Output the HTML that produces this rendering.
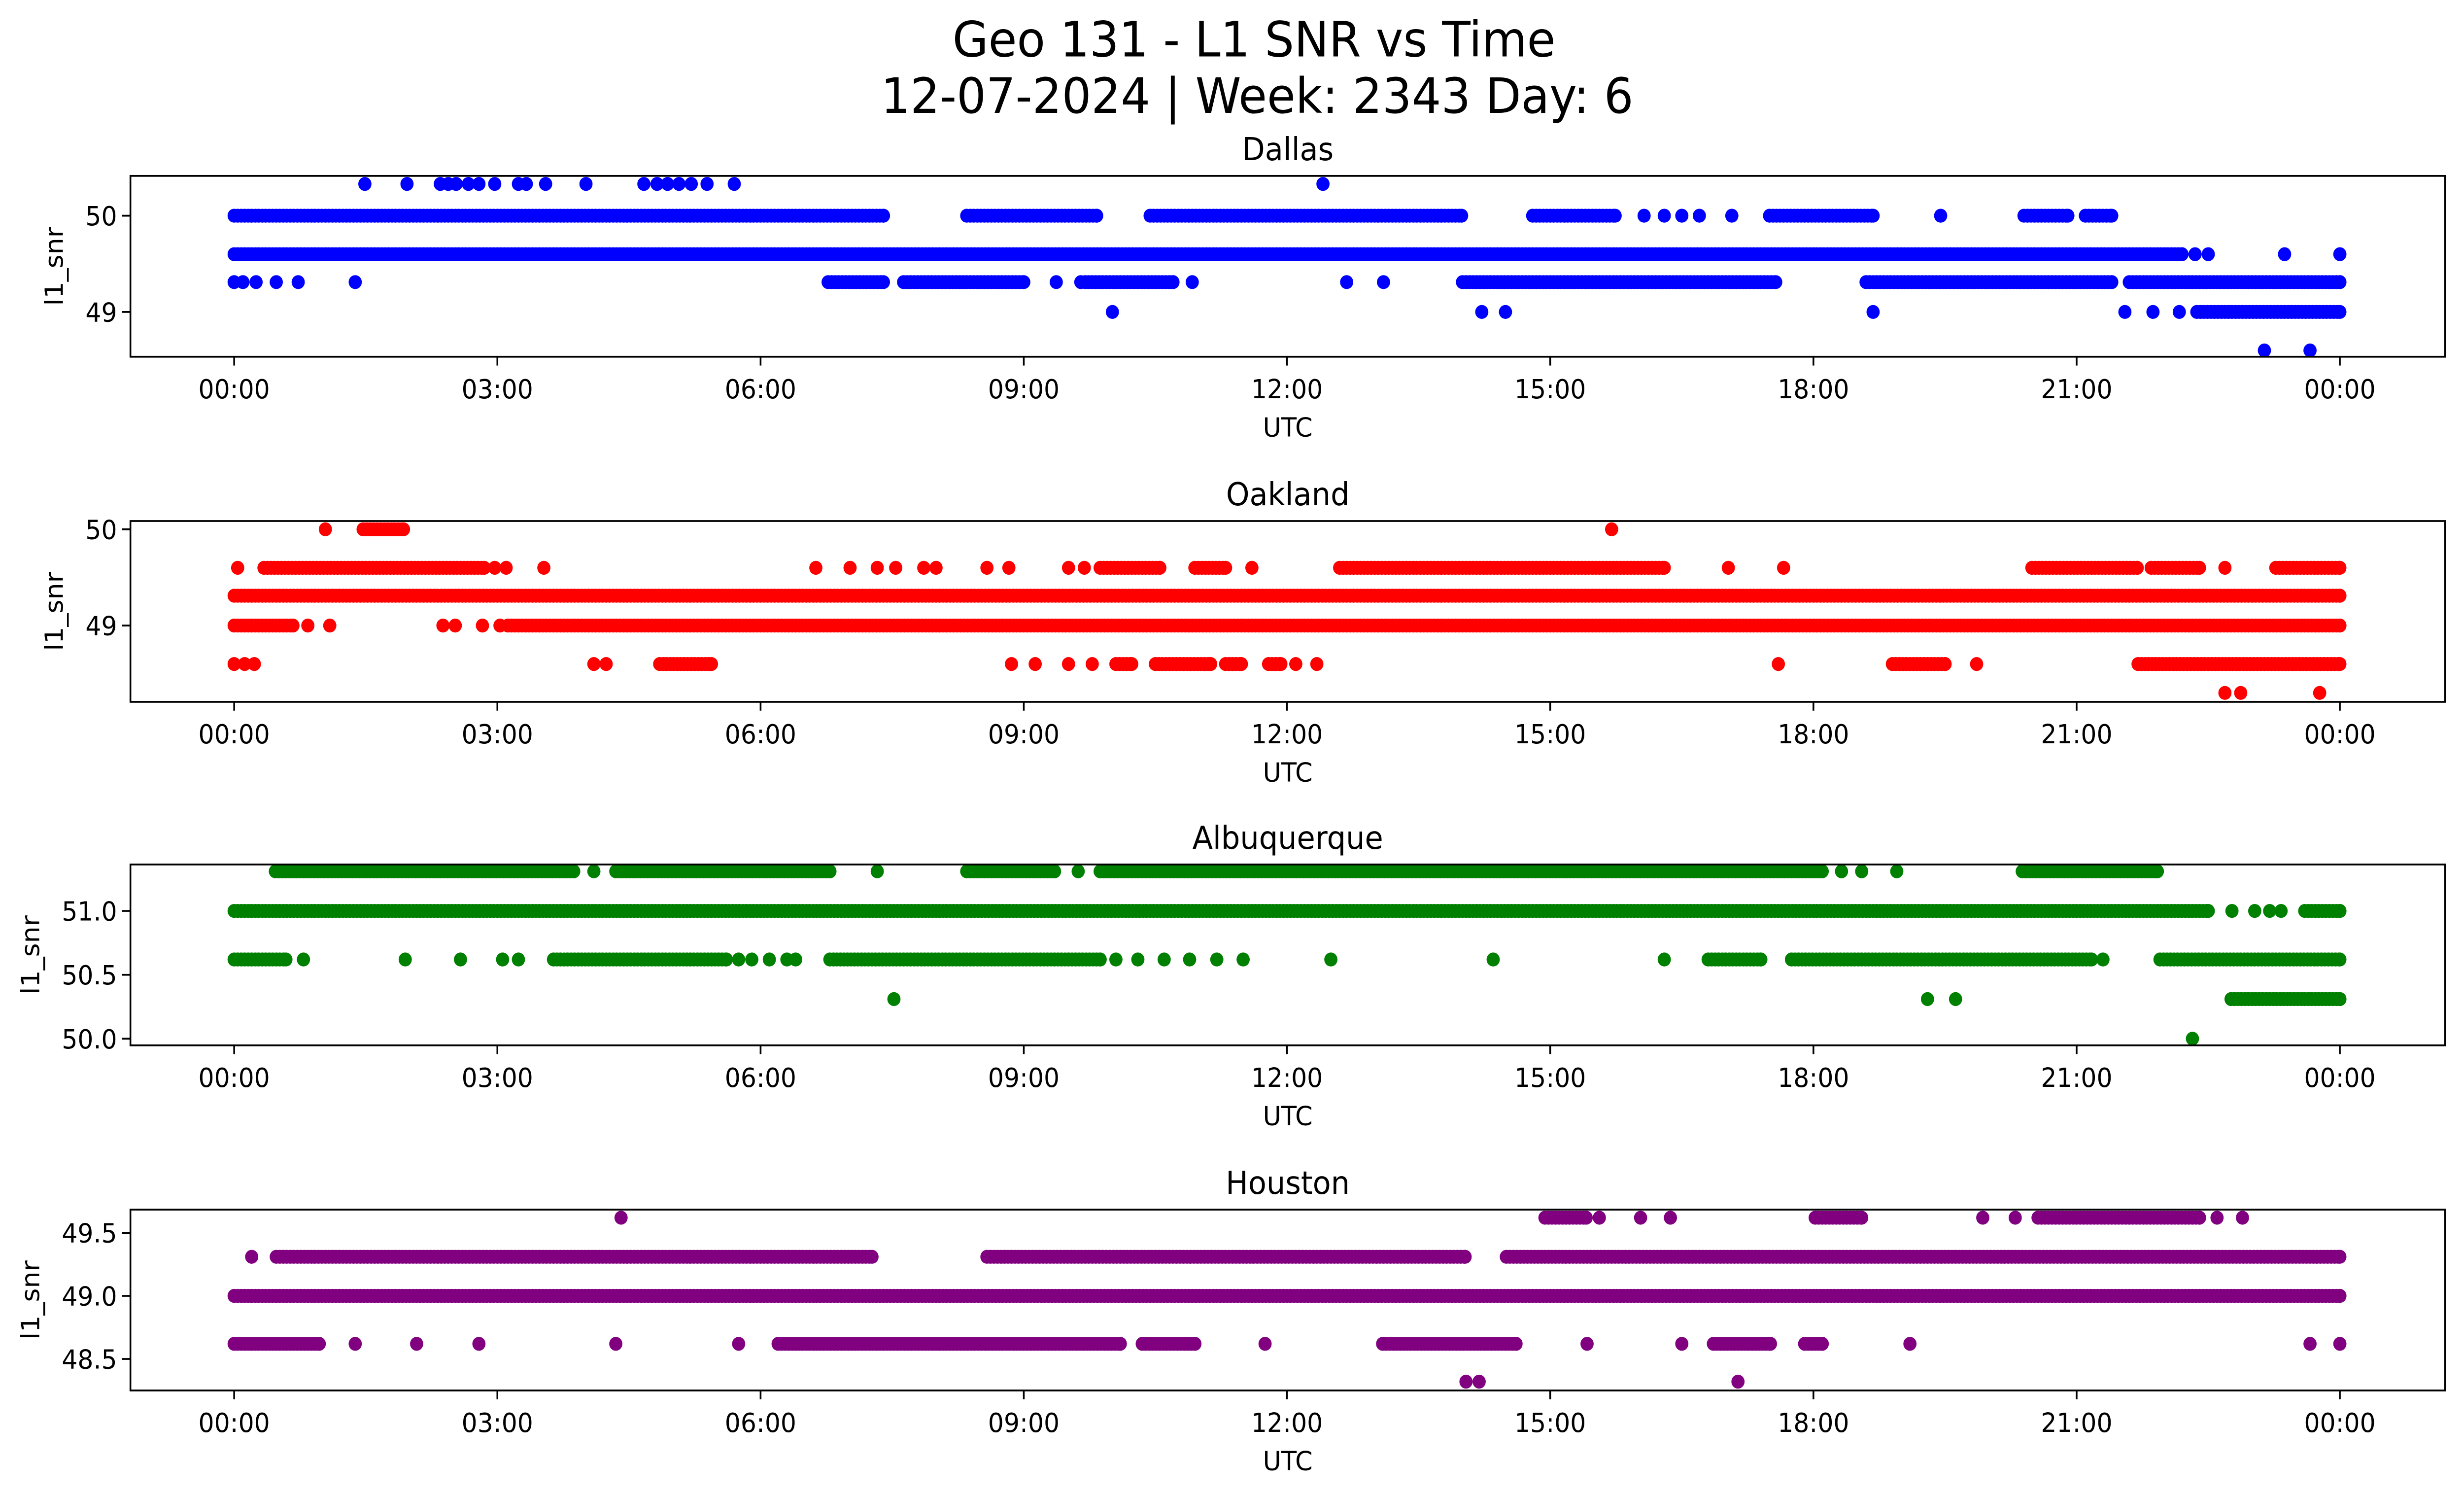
<!DOCTYPE html>
<html>
<head>
<meta charset="utf-8">
<style>
html,body{margin:0;padding:0;background:#fff;overflow:hidden;width:100%;height:100%;}
svg{display:block;position:absolute;left:0;top:0;width:100vw;height:100vh;}
text{font-family:"DejaVu Sans","Liberation Sans",sans-serif;fill:#000;}
</style>
</head>
<body>
<svg id="chart" viewBox="0 0 1568 901" preserveAspectRatio="none" xmlns="http://www.w3.org/2000/svg">
<text x="798" y="34" font-size="29.5" text-anchor="middle">Geo 131 - L1 SNR vs Time</text>
<text x="800" y="68" font-size="29.5" text-anchor="middle">12-07-2024 | Week: 2343 Day: 6</text>
</svg>
<script>
const xTickLabels = ["00:00","03:00","06:00","09:00","12:00","15:00","18:00","21:00","00:00"];
const xTickHours = [0,3,6,9,12,15,18,21,24];
const stations = ["Dallas","Oakland","Albuquerque","Houston"];
const colors = ["#0000ff","#ff0000","#008000","#800080"];
const yTicksDallas = [49,50];
const yTicksOakland = [49,50];
const yTicksAlbuquerque = [50.0,50.5,51.0];
const yTicksHouston = [48.5,49.0,49.5];
const yTickLabelsDallas = ["49","50"];
const yTickLabelsOakland = ["49","50"];
const yTickLabelsAlbuquerque = ["50.0","50.5","51.0"];
const yTickLabelsHouston = ["48.5","49.0","49.5"];
// runs: [value, startHour, endHour]; points: [value, hour]
const dallasRuns = [[50,0,7.4],[50,8.35,9.83],[50,10.44,13.99],[50,14.8,15.74],[50,17.5,18.68],[50,20.4,20.9],[50,21.1,21.4],
 [49.6,0,22.2],[49.31,6.77,7.4],[49.31,7.63,9.0],[49.31,9.7,10.7],[49.31,14,17.57],[49.31,18.6,21.4],[49.31,21.6,24],[49,22.37,24]];
const dallasPoints = [[50.33,1.49],[50.33,1.97],[50.33,2.35],[50.33,2.44],[50.33,2.53],[50.33,2.67],[50.33,2.79],[50.33,2.97],[50.33,3.24],[50.33,3.33],[50.33,3.55],[50.33,4.01],[50.33,4.67],[50.33,4.82],[50.33,4.94],[50.33,5.07],[50.33,5.21],[50.33,5.39],[50.33,5.7],[50.33,12.41],
 [50,16.07],[50,16.3],[50,16.5],[50,16.7],[50,17.07],[50,19.45],
 [49.6,22.35],[49.6,22.5],[49.6,23.37],[49.6,24],
 [49.31,0],[49.31,0.1],[49.31,0.25],[49.31,0.48],[49.31,0.73],[49.31,1.38],[49.31,9.37],[49.31,9.65],[49.31,10.92],[49.31,12.68],[49.31,13.1],
 [49,10.01],[49,14.22],[49,14.49],[49,18.68],[49,21.55],[49,21.87],[49,22.17],[48.6,23.14],[48.6,23.66]];
const oaklandRuns = [[50,1.47,1.93],[49.6,0.34,2.85],[49.6,9.87,10.55],[49.6,10.95,11.3],[49.6,12.6,16.3],[49.6,20.49,21.69],[49.6,21.85,22.4],[49.6,23.27,24],
 [49.31,0,24],[49,0,0.67],[49,3.12,24],[48.6,4.85,5.44],[48.6,10.05,10.23],[48.6,10.5,11.13],[48.6,11.3,11.48],[48.6,11.79,11.93],[48.6,18.9,19.5],[48.6,21.7,24]];
const oaklandPoints = [[50,1.04],[50,15.7],[49.6,0.04],[49.6,2.97],[49.6,3.1],[49.6,3.53],[49.6,6.63],[49.6,7.02],[49.6,7.33],[49.6,7.54],[49.6,7.86],[49.6,8.0],[49.6,8.58],[49.6,8.83],[49.6,9.51],[49.6,9.69],[49.6,11.6],[49.6,17.03],[49.6,17.66],[49.6,22.69],
 [49,0.84],[49,1.09],[49,2.38],[49,2.52],[49,2.83],[49,3.03],
 [48.6,0],[48.6,0.12],[48.6,0.23],[48.6,4.1],[48.6,4.24],[48.6,8.86],[48.6,9.13],[48.6,9.51],[48.6,9.78],[48.6,12.1],[48.6,12.34],[48.6,17.6],[48.6,19.86],
 [48.3,22.69],[48.3,22.87],[48.3,23.77]];
const albuquerqueRuns = [[51.31,0.47,3.87],[51.31,4.35,6.79],[51.31,8.35,9.35],[51.31,9.87,18.1],[51.31,20.38,21.92],[51,0,22.5],[51,23.6,24],
 [50.62,0,0.59],[50.62,3.64,5.61],[50.62,6.79,9.87],[50.62,16.8,17.4],[50.62,17.75,21.17],[50.62,21.95,24],[50.31,22.76,24]];
const albuquerquePoints = [[51.31,4.1],[51.31,7.33],[51.31,9.62],[51.31,18.32],[51.31,18.55],[51.31,18.95],[51,22.77],[51,23.03],[51,23.2],[51,23.33],
 [50.62,0.79],[50.62,1.95],[50.62,2.58],[50.62,3.06],[50.62,3.24],[50.62,5.75],[50.62,5.9],[50.62,6.1],[50.62,6.3],[50.62,6.4],[50.62,10.05],[50.62,10.3],[50.62,10.6],[50.62,10.89],[50.62,11.2],[50.62,11.5],[50.62,12.5],[50.62,14.35],[50.62,16.3],[50.62,21.3],
 [50.31,7.52],[50.31,19.3],[50.31,19.62],[50,22.32]];
const houstonRuns = [[49.62,14.94,15.41],[49.62,18.02,18.55],[49.62,20.56,22.4],[49.31,0.48,7.27],[49.31,8.58,14.03],[49.31,14.5,24],[49,0,24],
 [48.62,0,0.97],[48.62,6.2,10.1],[48.62,10.35,10.95],[48.62,13.09,14.61],[48.62,16.86,17.51],[48.62,17.9,18.1]];
const houstonPoints = [[49.62,4.41],[49.62,15.56],[49.62,16.03],[49.62,16.37],[49.62,19.93],[49.62,20.3],[49.62,22.6],[49.62,22.89],[49.31,0.2],
 [48.62,1.38],[48.62,2.08],[48.62,2.79],[48.62,4.35],[48.62,5.75],[48.62,11.75],[48.62,15.42],[48.62,16.5],[48.62,19.1],[48.62,23.66],[48.62,24],
 [48.32,14.04],[48.32,14.19],[48.32,17.14]];

const NS = "http://www.w3.org/2000/svg";
const svg = document.getElementById("chart");
const panels = [
 {top:106, yA:50, pA:130, yB:49, pB:188, ticks:yTicksDallas, labels:yTickLabelsDallas, runs:dallasRuns, pts:dallasPoints},
 {top:314, yA:50, pA:319, yB:49, pB:377, ticks:yTicksOakland, labels:yTickLabelsOakland, runs:oaklandRuns, pts:oaklandPoints},
 {top:521, yA:51, pA:549, yB:50, pB:626, ticks:yTicksAlbuquerque, labels:yTickLabelsAlbuquerque, runs:albuquerqueRuns, pts:albuquerquePoints},
 {top:729, yA:49.5, pA:743, yB:48.5, pB:819, ticks:yTicksHouston, labels:yTickLabelsHouston, runs:houstonRuns, pts:houstonPoints}
];
const L=83, R=1556, H=109;
function xScale(h){ return 149 + h/24*1340; }
function mk(tag, attrs){ const e=document.createElementNS(NS,tag); for(const k in attrs) e.setAttribute(k,attrs[k]); svg.appendChild(e); return e; }

panels.forEach((p,i)=>{
 const yScale = v => p.pB + (v - p.yB)*(p.pA - p.pB)/(p.yA - p.yB);
 const slug = stations[i].toLowerCase();
 const g = document.createElementNS(NS,"g");
 
 
 const dot=(h,v)=>{ const c=document.createElementNS(NS,"circle"); c.setAttribute("cx",xScale(h)); c.setAttribute("cy",yScale(v)); c.setAttribute("r",4.2); c.setAttribute("fill",colors[i]);
   
   
   g.appendChild(c); };
 p.runs.forEach(r=>{ for(let h=r[1]; h<=r[2]+1e-9; h+=0.04) dot(h,r[0]); dot(r[2],r[0]); });
 p.pts.forEach(q=>dot(q[1],q[0]));
 svg.appendChild(g);
 const frame = mk("rect",{x:L,y:p.top,width:R-L,height:H,fill:"none",stroke:"#000","stroke-width":1.1});
 
 
 const t = mk("text",{x:(L+R)/2,y:p.top-9.5,"font-size":19,"text-anchor":"middle"}); t.textContent=stations[i];
 
 
 xTickHours.forEach((h,j)=>{
  const x=xScale(h);
  const tk=mk("line",{x1:x,x2:x,y1:p.top+H,y2:p.top+H+5.3,stroke:"#000","stroke-width":1.1});
  
  
  const tl=mk("text",{x:x,y:p.top+H+25,"font-size":15.8,"text-anchor":"middle"}); tl.textContent=xTickLabels[j];
  
  
 });
 const xl=mk("text",{x:(L+R)/2,y:p.top+H+48,"font-size":16,"text-anchor":"middle"}); xl.textContent="UTC";
 
 
 p.ticks.forEach((v,j)=>{
  const y=yScale(v);
  const tk=mk("line",{x1:L-5.3,x2:L,y1:y,y2:y,stroke:"#000","stroke-width":1.1});
  
  
  const tl=mk("text",{x:L-8.5,y:y+5.8,"font-size":15.8,"text-anchor":"end"}); tl.textContent=p.labels[j];
  
  
 });
 const yx = p.labels[0].length>2 ? 20 : 35;
 const yl=mk("text",{x:yx+5,y:p.top+H/2,"font-size":16,"text-anchor":"middle",transform:`rotate(-90 ${yx+5} ${p.top+H/2})`}); yl.textContent="l1_snr";
 
 
});
</script>
</body>
</html>
